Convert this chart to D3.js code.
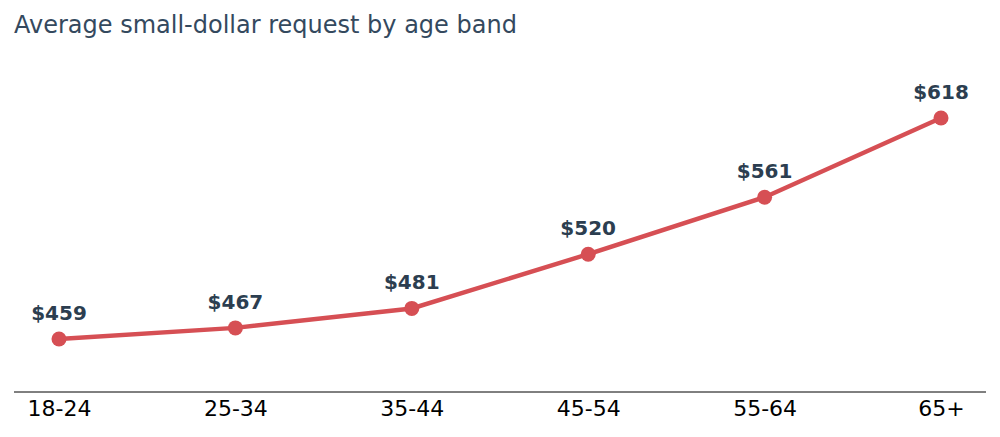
<!DOCTYPE html>
<html><head><meta charset="utf-8">
<script src="https://cdn.jsdelivr.net/npm/d3@7"></script>
<style>body{margin:0;background:#fff}svg{font-family:"DejaVu Sans",sans-serif}</style>
</head><body><svg width="1000" height="437"></svg>
<script>
var ageBands = ["18-24","25-34","35-44","45-54","55-64","65+"];
var avgRequest = [459,467,481,520,561,618];

var svg = d3.select("svg");
var x = d3.scalePoint().domain(ageBands).range([59,941]);
var y = d3.scaleLinear().domain([459,618]).range([339,118]);

svg.append("text").attr("x",14).attr("y",33).attr("fill","#34495e")
   .style("font-size","24px").text("Average small-dollar request by age band");

var axis = svg.append("g").attr("transform","translate(0,392)")
   .call(d3.axisBottom(x).tickSize(0).tickPadding(8));
axis.select(".domain").attr("d","M14,0H986").attr("stroke","#000");
axis.selectAll("text").style("font-size","22px").attr("fill","#000")
   .attr("font-family","DejaVu Sans");

var pts = ageBands.map(function(d,i){return {band:d,v:avgRequest[i]};});
svg.append("path").datum(pts).attr("fill","none").attr("stroke","#d64f54").attr("stroke-width",4.5)
   .attr("d",d3.line().x(function(d){return x(d.band);}).y(function(d){return y(d.v);}));
svg.selectAll("circle").data(pts).join("circle")
   .attr("cx",function(d){return x(d.band);}).attr("cy",function(d){return y(d.v);})
   .attr("r",7.5).attr("fill","#d64f54");
svg.selectAll(".lbl").data(pts).join("text").attr("class","lbl")
   .attr("x",function(d){return x(d.band);}).attr("y",function(d){return y(d.v)-19;})
   .attr("text-anchor","middle").attr("fill","#2c3e50").style("font-size","20px").style("font-weight","bold")
   .text(function(d){return "$"+d.v;});
</script></body></html>
